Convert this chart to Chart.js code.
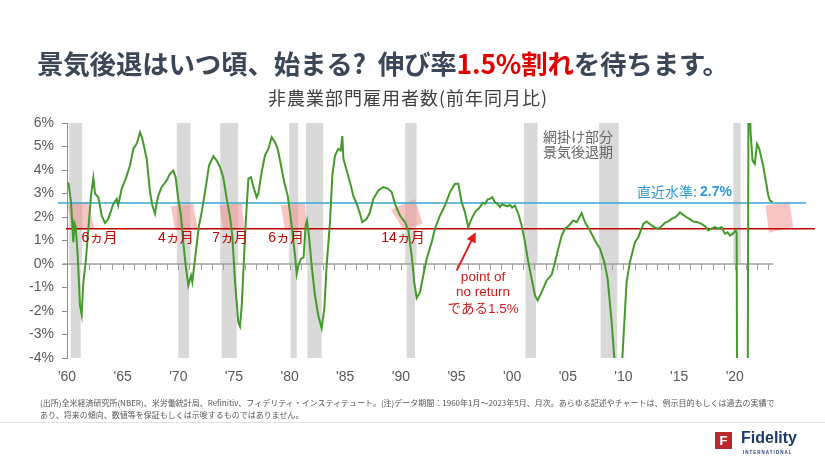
<!DOCTYPE html>
<html lang="ja">
<head>
<meta charset="utf-8">
<title>非農業部門雇用者数(前年同月比)</title>
<script src="https://cdn.jsdelivr.net/npm/chart.js@4"></script>
<style>
  body { margin: 0; background: #fff; }
  #page { position: relative; width: 825px; height: 464px; overflow: hidden; font-family: "Noto Sans CJK JP", sans-serif; }
  #chart { position: absolute; left: 0; top: 0; }
  .title { position: absolute; left: 37px; top: 43px; font-size: 26.5px; font-weight: bold; color: #3b4656; white-space: nowrap; letter-spacing: -0.2px; }
  .title .red { color: #e00000; }
  .subtitle { position: absolute; left: 0; top: 84px; width: 816px; text-align: center; font-size: 18px; letter-spacing: 1px; color: #404040; }
  .footer { position: absolute; left: 40px; top: 397px; font-size: 8px; line-height: 12px; color: #555; white-space: nowrap; }
  .sep { position: absolute; left: 0; top: 422px; width: 825px; height: 1px; background: #e4e4e4; }
  .logo-box { position: absolute; left: 715px; top: 432px; width: 17px; height: 17px; background: #b8282d; color: #fff; font: bold 13px "Liberation Sans", sans-serif; text-align: center; line-height: 17px; }
  .logo-text { position: absolute; left: 741px; top: 429px; font: bold 16px "Liberation Sans", sans-serif; color: #1d3a6b; }
  .logo-sub { position: absolute; left: 743px; top: 450px; font: bold 4.5px "Liberation Sans", sans-serif; letter-spacing: 1px; color: #1d3a6b; }
</style>
</head>
<body>
<div id="page">
  <canvas id="chart" width="825" height="464"></canvas>
  <div class="title">景気後退はいつ頃、始まる?&nbsp; 伸び率<span class="red">1.5%割れ</span>を待ちます。</div>
  <div class="subtitle">非農業部門雇用者数(前年同月比)</div>
  <div class="footer">(出所)全米経済研究所(NBER)、米労働統計局、Refinitiv、フィデリティ・インスティテュート。(注)データ期間：1960年1月～2023年5月、月次。あらゆる記述やチャートは、例示目的もしくは過去の実績で<br>あり、将来の傾向、数値等を保証もしくは示唆するものではありません。</div>
  <div class="sep"></div>
  <div class="logo-box">F</div>
  <div class="logo-text">Fidelity</div>
  <div class="logo-sub">INTERNATIONAL</div>
</div>
<script>
// 非農業部門雇用者数 前年同月比(%) — 画像から読み取り
const years = [
  1960.00, 1960.15, 1960.36, 1960.50, 1960.57, 1960.66, 1960.78, 1960.96, 1961.17, 1961.32,
  1961.47, 1961.68, 1961.92, 1962.16, 1962.37, 1962.52, 1962.82, 1963.12, 1963.41, 1963.71,
  1964.16, 1964.47, 1964.60, 1964.91, 1965.27, 1965.66, 1965.96, 1966.26, 1966.56, 1966.77,
  1967.16, 1967.46, 1967.67, 1967.91, 1968.06, 1968.20, 1968.50, 1968.95, 1969.25, 1969.55,
  1969.76, 1970.00, 1970.24, 1970.45, 1970.66, 1970.90, 1971.14, 1971.26, 1971.50, 1971.86,
  1972.10, 1972.40, 1972.76, 1973.15, 1973.45, 1973.75, 1974.04, 1974.35, 1974.65, 1974.85,
  1975.10, 1975.39, 1975.54, 1975.70, 1975.85, 1976.06, 1976.30, 1976.53, 1976.75, 1977.04,
  1977.19, 1977.49, 1977.79, 1978.09, 1978.39, 1978.69, 1978.93, 1979.23, 1979.52, 1979.83,
  1980.19, 1980.49, 1980.64, 1980.79, 1981.02, 1981.26, 1981.44, 1981.56, 1981.74, 1981.98,
  1982.28, 1982.58, 1982.88, 1983.12, 1983.33, 1983.63, 1983.84, 1984.08, 1984.38, 1984.59,
  1984.74, 1984.83, 1985.13, 1985.43, 1985.72, 1986.03, 1986.33, 1986.53, 1986.93, 1987.22,
  1987.52, 1987.97, 1988.42, 1988.87, 1989.17, 1989.47, 1989.92, 1990.37, 1990.67, 1990.97,
  1991.20, 1991.42, 1991.72, 1992.01, 1992.32, 1992.77, 1993.06, 1993.51, 1993.96, 1994.41,
  1994.86, 1995.16, 1995.46, 1995.76, 1996.05, 1996.35, 1996.65, 1997.10, 1997.35, 1997.56,
  1997.80, 1998.00, 1998.20, 1998.45, 1998.70, 1998.90, 1999.10, 1999.35, 1999.60, 1999.80,
  2000.00, 2000.25, 2000.55, 2000.85, 2001.15, 2001.45, 2001.75, 2002.05, 2002.29, 2002.65,
  2003.10, 2003.55, 2003.84, 2004.14, 2004.45, 2004.74, 2005.10, 2005.49, 2005.80, 2006.24,
  2006.54, 2006.99, 2007.44, 2007.89, 2008.28, 2008.58, 2008.94, 2009.18, 2009.50, 2009.90,
  2010.28, 2010.58, 2011.03, 2011.33, 2011.78, 2012.08, 2012.53, 2012.85, 2013.13, 2013.45,
  2013.73, 2014.05, 2014.33, 2014.70, 2015.08, 2015.40, 2015.68, 2016.00, 2016.27, 2016.65,
  2017.02, 2017.35, 2017.62, 2017.95, 2018.22, 2018.50, 2018.82, 2019.12, 2019.35, 2019.57,
  2019.85, 2020.08, 2020.17, 2020.25, 2020.33, 2020.50, 2020.75, 2021.00, 2021.17, 2021.25,
  2021.33, 2021.42, 2021.60, 2021.80, 2022.00, 2022.20, 2022.55, 2022.86, 2023.01, 2023.16,
  2023.42
];
const growth = [
  3.48, 3.40, 2.63, 1.50, 0.93, 1.75, 1.60, 0.36, -1.77, -2.16,
  -0.77, 0.08, 1.50, 2.91, 3.67, 2.99, 2.84, 2.06, 1.75, 1.92,
  2.56, 2.77, 2.50, 3.20, 3.62, 4.19, 4.90, 5.11, 5.61, 5.33,
  4.48, 3.06, 2.49, 2.14, 2.60, 2.91, 3.27, 3.55, 3.84, 3.98,
  3.69, 2.77, 2.06, 0.93, -0.06, -0.91, -0.49, -0.77, 0.22, 1.64,
  2.20, 3.06, 4.19, 4.59, 4.40, 4.12, 3.69, 2.77, 2.00, 1.20,
  -0.77, -2.48, -2.65, -1.77, -0.30, 1.78, 3.63, 3.69, 3.28, 2.84,
  2.98, 3.91, 4.62, 4.90, 5.40, 5.18, 4.90, 4.19, 3.48, 2.91,
  1.64, 0.36, -0.42, -0.06, 0.22, 0.29, 1.64, 1.85, 1.21, -0.06,
  -1.34, -2.19, -2.73, -1.91, -0.06, 1.78, 3.77, 4.62, 4.90, 4.83,
  5.44, 4.50, 3.98, 3.48, 2.91, 2.56, 2.14, 1.78, 1.92, 2.20,
  2.77, 3.13, 3.27, 3.20, 3.06, 2.56, 2.06, 1.78, 1.43, 0.36,
  -0.77, -1.45, -1.20, -0.49, 0.22, 0.93, 1.50, 2.06, 2.49, 3.06,
  3.41, 3.41, 2.63, 2.20, 1.57, 1.92, 2.20, 2.42, 2.60, 2.56,
  2.75, 2.77, 2.85, 2.63, 2.55, 2.42, 2.55, 2.49, 2.45, 2.52,
  2.40, 2.49, 2.14, 1.64, 0.93, 0.08, -0.63, -1.34, -1.55, -1.20,
  -0.70, -0.45, 0.05, 0.65, 1.21, 1.50, 1.64, 1.85, 1.78, 2.16,
  1.78, 1.43, 1.00, 0.65, 0.08, -0.63, -2.48, -4.00, -5.00, -4.00,
  -0.77, 0.08, 0.93, 1.14, 1.71, 1.81, 1.64, 1.55, 1.50, 1.62,
  1.75, 1.82, 1.92, 2.00, 2.20, 2.08, 1.99, 1.90, 1.81, 1.78,
  1.71, 1.60, 1.43, 1.52, 1.57, 1.50, 1.57, 1.28, 1.35, 1.21,
  1.30, 1.43, 1.30, -13.0, -11.6, -8.7, -6.4, -6.0, -4.4, 10.4,
  8.0, 5.6, 4.40, 4.26, 5.11, 4.90, 4.19, 3.34, 2.91, 2.70,
  2.63
];

// 景気後退期(網掛け)
const recStart = [1960.33, 1970.00, 1973.90, 1980.10, 1981.60, 1990.52, 2001.20, 2007.95, 2020.00];
const recEnd   = [1961.23, 1970.96, 1975.25, 1980.64, 1982.88, 1991.27, 2002.14, 2009.44, 2020.40];
const recBelowZero = [true, true, true, true, true, true, true, true, false];

// 水準線
const latestLevel = 2.6;
const thresholdLevel = 1.5;

// 軸目盛
const tickYears = [1960, 1965, 1970, 1975, 1980, 1985, 1990, 1995, 2000, 2005, 2010, 2015, 2020];
const yMin = -4, yMax = 6;

// 1.5%割れまでの期間(ピンクの枠)
const boxYears = [
  [1960.03, 1961.91, 1962.43, 1960.48],
  [1969.34, 1971.35, 1971.74, 1969.70],
  [1973.68, 1975.69, 1975.93, 1974.05],
  [1979.23, 1981.38, 1981.53, 1979.59],
  [1989.11, 1991.27, 1991.96, 1990.22],
  [2022.77, 2024.90, 2025.25, 2023.07]
];
const boxVals = [
  [2.52, 2.66, 1.52, 1.43],
  [2.46, 2.56, 1.50, 1.43],
  [2.49, 2.60, 1.50, 1.43],
  [2.49, 2.60, 1.50, 1.43],
  [2.31, 2.77, 1.71, 1.46],
  [2.49, 2.66, 1.57, 1.33]
];
const monthLabels = ['6ヵ月', '4ヵ月', '7ヵ月', '6ヵ月', '14ヵ月'];
const monthLabelYears = [1962.92, 1969.79, 1974.65, 1979.68, 1990.19];

const overlay = {
  id: 'overlay',
  beforeDatasetsDraw(chart) {
    const { ctx, chartArea: a, scales: { x, y } } = chart;
    const y0 = y.getPixelForValue(0);
    ctx.save();
    // recession bands
    ctx.fillStyle = '#d9d9d9';
    recStart.forEach((s, i) => {
      const xs = x.getPixelForValue(s), xe = x.getPixelForValue(recEnd[i]);
      ctx.fillRect(xs - 1.5, a.top, xe - xs + 3, y0 - a.top);
      if (recBelowZero[i]) ctx.fillRect(xs, y0, xe - xs, a.bottom - y0);
    });
    // pink boxes
    ctx.fillStyle = 'rgba(242,140,140,0.5)';
    boxYears.forEach((bx, i) => {
      ctx.beginPath();
      bx.forEach((v, j) => {
        const px = x.getPixelForValue(v), py = y.getPixelForValue(boxVals[i][j]);
        if (j === 0) ctx.moveTo(px, py); else ctx.lineTo(px, py);
      });
      ctx.closePath();
      ctx.fill();
    });
    // zero axis with yearly ticks
    ctx.strokeStyle = '#a0a0a0';
    ctx.lineWidth = 1.5;
    ctx.beginPath();
    ctx.moveTo(x.getPixelForValue(1959.6), y0);
    ctx.lineTo(x.getPixelForValue(2023.45), y0);
    ctx.stroke();
    ctx.lineWidth = 1;
    ctx.beginPath();
    for (let yr = 1961; yr <= 2023; yr++) {
      const px = Math.round(x.getPixelForValue(yr)) + 0.5;
      ctx.moveTo(px, y0);
      ctx.lineTo(px, y0 + 6);
    }
    ctx.stroke();
    // level lines
    ctx.lineWidth = 1.5;
    ctx.strokeStyle = '#35a7d4';
    const yb = y.getPixelForValue(latestLevel);
    ctx.beginPath();
    ctx.moveTo(58, yb);
    ctx.lineTo(x.getPixelForValue(2026.4), yb);
    ctx.stroke();
    ctx.strokeStyle = '#c00000';
    const yr1 = y.getPixelForValue(thresholdLevel);
    ctx.beginPath();
    ctx.moveTo(66, yr1);
    ctx.lineTo(x.getPixelForValue(2027.2), yr1);
    ctx.stroke();
    ctx.restore();
  },
  afterDatasetsDraw(chart) {
    const { ctx, scales: { x, y } } = chart;
    ctx.save();
    ctx.textBaseline = 'middle';
    // months labels
    ctx.fillStyle = '#c00000';
    ctx.textAlign = 'center';
    ctx.font = '14px "Liberation Sans", "Noto Sans CJK JP", sans-serif';
    monthLabels.forEach((t, i) => {
      ctx.fillText(t, x.getPixelForValue(monthLabelYears[i]), y.getPixelForValue(1.1));
    });
    // point of no return
    ctx.fillStyle = '#d21a1a';
    ctx.font = '13.5px "Liberation Sans", "Noto Sans CJK JP", sans-serif';
    const cx = x.getPixelForValue(1997.38);
    ctx.fillText('point of', cx, y.getPixelForValue(-0.56));
    ctx.fillText('no return', cx, y.getPixelForValue(-1.21));
    ctx.fillText('である1.5%', cx, y.getPixelForValue(-1.91));
    // arrow
    const tx = x.getPixelForValue(1995.01), ty = y.getPixelForValue(-0.28);
    const hx = x.getPixelForValue(1996.72), hy = y.getPixelForValue(1.35);
    const ang = Math.atan2(hy - ty, hx - tx);
    ctx.strokeStyle = '#e01e1e';
    ctx.lineWidth = 2;
    ctx.beginPath();
    ctx.moveTo(tx, ty);
    ctx.lineTo(hx - 6 * Math.cos(ang), hy - 6 * Math.sin(ang));
    ctx.stroke();
    ctx.fillStyle = '#e01e1e';
    ctx.beginPath();
    ctx.moveTo(hx, hy);
    ctx.lineTo(hx - 10 * Math.cos(ang) + 5 * Math.sin(ang), hy - 10 * Math.sin(ang) - 5 * Math.cos(ang));
    ctx.lineTo(hx - 10 * Math.cos(ang) - 5 * Math.sin(ang), hy - 10 * Math.sin(ang) + 5 * Math.cos(ang));
    ctx.closePath();
    ctx.fill();
    // shaded legend
    ctx.fillStyle = '#666';
    ctx.textAlign = 'left';
    ctx.font = '14px "Noto Sans CJK JP", sans-serif';
    const lx = x.getPixelForValue(2002.77);
    ctx.fillText('網掛け部分', lx, y.getPixelForValue(5.43));
    ctx.fillText('景気後退期', lx, y.getPixelForValue(4.79));
    // latest level text
    ctx.fillStyle = '#2e9bd6';
    ctx.textAlign = 'right';
    ctx.font = 'bold 14px "Liberation Sans", sans-serif';
    const rx = x.getPixelForValue(2019.75), ry = y.getPixelForValue(latestLevel) - 11;
    ctx.fillText('2.7%', rx, ry);
    const w = ctx.measureText('2.7%').width;
    ctx.font = '14px "Noto Sans CJK JP", sans-serif';
    ctx.fillText('直近水準: ', rx - w, ry);
    ctx.restore();
  }
};

new Chart(document.getElementById('chart'), {
  type: 'line',
  data: {
    datasets: [{
      data: years.map((v, i) => ({ x: v, y: growth[i] })),
      borderColor: '#449a2a',
      borderWidth: 2,
      pointRadius: 0,
      tension: 0
    }]
  },
  options: {
    responsive: false,
    animation: false,
    layout: { padding: { left: 0, top: 123, right: 12, bottom: 76 } },
    plugins: { legend: { display: false }, tooltip: { enabled: false } },
    scales: {
      x: {
        type: 'linear',
        min: 1960,
        max: 2027.03,
        grid: { display: false, drawTicks: false },
        border: { display: false },
        afterBuildTicks: (axis) => { axis.ticks = tickYears.map(v => ({ value: v })); },
        afterFit: (axis) => { axis.height = 30; },
        ticks: {
          autoSkip: false,
          maxRotation: 0,
          padding: 11,
          color: '#595959',
          font: { family: '"Liberation Sans", sans-serif', size: 14 },
          callback: (v) => "'" + String(v).slice(2)
        }
      },
      y: {
        min: yMin,
        max: yMax,
        afterFit: (axis) => { axis.width = 67; },
        grid: { drawOnChartArea: false, drawTicks: true, tickLength: 5, color: '#8c8c8c' },
        border: { display: true, color: '#8c8c8c' },
        ticks: {
          stepSize: 1,
          padding: 8,
          color: '#595959',
          font: { family: '"Liberation Sans", sans-serif', size: 14 },
          callback: (v) => v + '%'
        }
      }
    }
  },
  plugins: [overlay]
});
</script>
</body>
</html>
